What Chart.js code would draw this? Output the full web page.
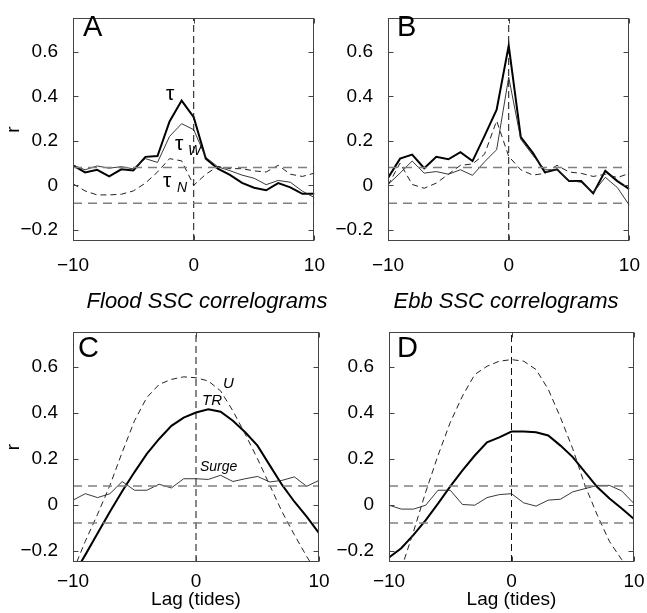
<!DOCTYPE html>
<html>
<head>
<meta charset="utf-8">
<script src="https://cdn.jsdelivr.net/npm/chart.js@4.4.1/dist/chart.umd.min.js"></script>
<style>
body{margin:0;background:#fff;}
#fig{position:relative;width:647px;height:613px;overflow:hidden;font-family:"Liberation Sans",Arial,sans-serif;color:#000;}
#fig canvas{position:absolute;}
.t{position:absolute;line-height:1;white-space:nowrap;}
.it{font-style:italic;}
</style>
</head>
<body>
<div id="fig">
  <canvas id="cA"></canvas>
  <canvas id="cB"></canvas>
  <canvas id="cC"></canvas>
  <canvas id="cD"></canvas>

  <div class="t" style="left:83px;top:12px;font-size:29px">A</div>
  <div class="t" style="left:397px;top:12px;font-size:29px">B</div>
  <div class="t" style="left:78px;top:333px;font-size:29px">C</div>
  <div class="t" style="left:397px;top:333px;font-size:29px">D</div>

  <div class="t it" style="left:57px;width:300px;text-align:center;top:290px;font-size:22px">Flood SSC correlograms</div>
  <div class="t it" style="left:356px;width:300px;text-align:center;top:290px;font-size:22px">Ebb SSC correlograms</div>

  <div class="t" style="left:166px;top:82px;font-size:21px">τ</div>
  <div class="t" style="left:175px;top:132px;font-size:21px">τ</div>
  <div class="t it" style="left:188px;top:143px;font-size:14px">W</div>
  <div class="t" style="left:163px;top:169px;font-size:21px">τ</div>
  <div class="t it" style="left:177px;top:180px;font-size:14px">N</div>

  <div class="t it" style="left:223px;top:375px;font-size:15px">U</div>
  <div class="t it" style="left:202px;top:392px;font-size:15px">TR</div>
  <div class="t it" style="left:200px;top:459px;font-size:14px">Surge</div>
</div>

<script>
// lag in tides
const LAGS = [-10, -9, -8, -7, -6, -5, -4, -3, -2, -1, 0, 1, 2, 3, 4, 5, 6, 7, 8, 9, 10];
const X_TICKS = [-10, 0, 10];
const Y_TICKS = [-0.2, 0, 0.2, 0.4, 0.6];
const Y_MIN = -0.25, Y_MAX = 0.75;
const SIG = 0.08;   // significance level (dashed lines)

// A: flood SSC vs stress
const tauA  = [0.09, 0.058, 0.07, 0.04, 0.072, 0.067, 0.128, 0.132, 0.287, 0.381, 0.306, 0.12, 0.075, 0.047, 0.011, -0.011, -0.022, 0.01, -0.009, -0.038, -0.038];
const tauWA = [0.09, 0.07, 0.087, 0.077, 0.084, 0.074, 0.12, 0.103, 0.22, 0.277, 0.25, 0.126, 0.083, 0.066, 0.046, 0.032, 0.003, 0.022, 0.014, -0.026, -0.055];
const tauNA = [0.007, -0.025, -0.043, -0.043, -0.04, -0.025, 0.01, 0.06, 0.12, 0.11, 0.0, 0.05, 0.085, 0.075, 0.075, 0.065, 0.06, 0.09, 0.05, 0.04, 0.055];

// B: ebb SSC vs stress
const tauB  = [0.033, 0.12, 0.138, 0.077, 0.128, 0.117, 0.149, 0.109, 0.222, 0.34, 0.628, 0.217, 0.146, 0.058, 0.072, 0.019, 0.019, -0.036, 0.065, 0.019, -0.017];
const tauWB = [0.004, 0.055, 0.109, 0.055, 0.062, 0.05, 0.07, 0.045, 0.106, 0.16, 0.486, 0.207, 0.135, 0.07, 0.07, 0.022, 0.014, -0.032, 0.036, -0.01, -0.09];
const tauNB = [0.0, 0.1, 0.004, -0.013, 0.01, 0.05, 0.09, 0.096, 0.14, 0.29, 0.13, 0.07, 0.046, 0.054, 0.09, 0.06, 0.054, 0.04, 0.05, 0.035, 0.054];

// C: flood SSC vs tidal range, velocity, surge
const trC    = [-0.31, -0.219, -0.125, -0.032, 0.058, 0.141, 0.22, 0.285, 0.342, 0.378, 0.4, 0.414, 0.403, 0.364, 0.314, 0.256, 0.17, 0.085, 0.012, -0.053, -0.125];
const uC     = [-0.29, -0.16, -0.042, 0.083, 0.227, 0.364, 0.465, 0.522, 0.544, 0.555, 0.551, 0.537, 0.494, 0.407, 0.306, 0.199, 0.083, -0.032, -0.132, -0.226, -0.31];
const surgeC = [0.019, 0.047, 0.03, 0.047, 0.1, 0.062, 0.062, 0.088, 0.072, 0.112, 0.112, 0.109, 0.127, 0.1, 0.112, 0.122, 0.098, 0.105, 0.12, 0.079, 0.105];

// D: ebb SSC vs tidal range, velocity, surge
const trD    = [-0.23, -0.19, -0.132, -0.068, 0.004, 0.079, 0.148, 0.213, 0.27, 0.292, 0.317, 0.317, 0.314, 0.3, 0.256, 0.206, 0.141, 0.076, 0.026, -0.017, -0.063];
const uD     = [-0.4, -0.28, -0.118, 0.055, 0.213, 0.357, 0.472, 0.565, 0.601, 0.623, 0.63, 0.623, 0.587, 0.501, 0.378, 0.242, 0.083, -0.046, -0.161, -0.24, -0.35];
const surgeD = [-0.003, -0.02, -0.02, -0.003, 0.062, 0.062, 0.0, -0.003, 0.03, 0.043, 0.047, 0.007, -0.007, 0.019, 0.023, 0.055, 0.069, 0.083, 0.083, 0.059, 0.004];

Chart.defaults.font.family = '"Liberation Sans", Arial, sans-serif';
Chart.defaults.font.size = 19;
Chart.defaults.color = '#000';

function pts(vals) {
    return LAGS.map((x, i) => ({x: x, y: vals[i]}));
}

function fmt(v) {
    return v < 0 ? '\u2212' + Math.abs(v) : String(v);
}

// matlab style box with inward ticks
const boxPlugin = {
    id: 'box',
    afterDatasetsDraw(chart) {
        const a = chart.chartArea, ctx = chart.ctx;
        const xs = chart.scales.x, ys = chart.scales.y;
        const L = Math.round(a.left) + 0.5, R = Math.round(a.right) - 0.5;
        const T = Math.round(a.top) + 0.5, B = Math.round(a.bottom) - 0.5;
        ctx.save();
        ctx.strokeStyle = '#444';
        ctx.lineWidth = 1;
        ctx.beginPath();
        ys.ticks.forEach(t => {
            const p = Math.round(ys.getPixelForValue(t.value)) + 0.5;
            ctx.moveTo(L, p); ctx.lineTo(L + 5, p);
            ctx.moveTo(R, p); ctx.lineTo(R - 5, p);
        });
        xs.ticks.forEach(t => {
            const p = Math.round(xs.getPixelForValue(t.value)) + 0.5;
            ctx.moveTo(p, B); ctx.lineTo(p, B - 5);
            ctx.moveTo(p, T); ctx.lineTo(p, T + 5);
        });
        ctx.stroke();
        ctx.strokeRect(L, T, R - L, B - T);
        ctx.restore();
    }
};

function panel(id, p) {
    const cv = document.getElementById(id);
    cv.width = p.w; cv.height = p.h;
    cv.style.left = p.left + 'px';
    cv.style.top = p.top + 'px';
    const refLine = (data, col, w, dash) => ({
        data: data, borderColor: col, borderWidth: w, borderDash: dash,
        pointRadius: 0, fill: false
    });
    new Chart(cv.getContext('2d'), {
        type: 'line',
        data: {
            datasets: [
                refLine([{x: -10, y: SIG}, {x: 10, y: SIG}], '#808080', 1.5, [9, 6]),
                refLine([{x: -10, y: -SIG}, {x: 10, y: -SIG}], '#808080', 1.5, [9, 6]),
                refLine([{x: 0, y: Y_MIN}, {x: 0, y: Y_MAX}], '#111', 1, [7, 4]),
                refLine(pts(p.dashed), '#222', 1, [6, 4]),
                refLine(pts(p.thin), '#222', 0.9, []),
                refLine(pts(p.thick), '#000', 2, [])
            ]
        },
        options: {
            responsive: false,
            animation: false,
            events: [],
            layout: {autoPadding: false, padding: {left: 0, top: p.padTop, right: p.padRight, bottom: 0}},
            plugins: {legend: {display: false}, tooltip: {enabled: false}},
            scales: {
                x: {
                    type: 'linear', min: -10, max: 10,
                    grid: {display: false}, border: {display: false},
                    afterBuildTicks: s => { s.ticks = X_TICKS.map(v => ({value: v})); },
                    afterFit: s => { s.height = p.xH; },
                    ticks: {padding: p.xPad, maxRotation: 0, callback: fmt},
                    title: {display: p.xTitle, text: 'Lag (tides)', font: {size: 19}, padding: {top: 0, bottom: 2}}
                },
                y: {
                    min: Y_MIN, max: Y_MAX,
                    grid: {display: false}, border: {display: false},
                    afterBuildTicks: s => { s.ticks = Y_TICKS.map(v => ({value: v})); },
                    afterFit: s => { s.width = 73; },
                    ticks: {padding: 7, callback: fmt},
                    title: {display: p.yTitle, text: 'r', font: {size: 19}, padding: {top: 2, bottom: 0}}
                }
            }
        },
        plugins: [boxPlugin]
    });
}

panel('cA', {left: 0, top: 0, w: 330, h: 290, padTop: 13, padRight: 11, xH: 49, xPad: 5,
    thick: tauA, thin: tauWA, dashed: tauNA, xTitle: false, yTitle: true});
panel('cB', {left: 315, top: 0, w: 330, h: 290, padTop: 13, padRight: 11, xH: 49, xPad: 5,
    thick: tauB, thin: tauWB, dashed: tauNB, xTitle: false, yTitle: false});
panel('cC', {left: 0, top: 300, w: 330, h: 313, padTop: 32, padRight: 11, xH: 51, xPad: 0,
    thick: trC, thin: surgeC, dashed: uC, xTitle: true, yTitle: true});
panel('cD', {left: 316, top: 300, w: 330, h: 313, padTop: 32, padRight: 12, xH: 51, xPad: 0,
    thick: trD, thin: surgeD, dashed: uD, xTitle: true, yTitle: false});
</script>
</body>
</html>
